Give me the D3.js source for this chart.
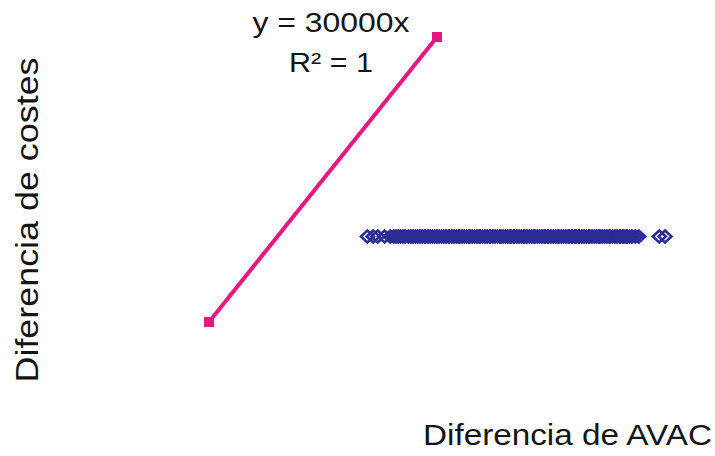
<!DOCTYPE html>
<html>
<head>
<meta charset="utf-8">
<script src="https://cdn.jsdelivr.net/npm/d3@7"></script>
<style>
  body { margin: 0; background: #fff; }
  svg text { font-family: "Liberation Sans", Arial, sans-serif; fill: #141414; }
</style>
</head>
<body>
<div id="chart"></div>
<script>
// regression line (y = 30000x), endpoints in AVAC / cost units
const lineX = [0, 0.02];
const lineY = lineX.map(x => 30000 * x);

// simulated pairs: AVAC difference (x), all at the same cost difference
const simCost = 180;
const simAvac = [
  0.0139, 0.0144, 0.0148, 0.0154, 0.0159,
  0.0162, 0.0164, 0.0166, 0.0168, 0.0170, 0.0172, 0.0175, 0.0177, 0.0179, 0.0181,
  0.0183, 0.0185, 0.0187, 0.0189, 0.0190, 0.0192, 0.0194, 0.0196, 0.0198, 0.0200,
  0.0202, 0.0204, 0.0206, 0.0208, 0.0210, 0.0211, 0.0213, 0.0215, 0.0217, 0.0219,
  0.0220, 0.0222, 0.0224, 0.0226, 0.0228, 0.0229, 0.0231, 0.0233, 0.0235, 0.0237,
  0.0238, 0.0240, 0.0242, 0.0244, 0.0246, 0.0247, 0.0249, 0.0251, 0.0253, 0.0255,
  0.0256, 0.0258, 0.0260, 0.0262, 0.0264, 0.0265, 0.0267, 0.0268, 0.0270, 0.0272,
  0.0274, 0.0276, 0.0277, 0.0279, 0.0281, 0.0283, 0.0285, 0.0286, 0.0288, 0.0290,
  0.0292, 0.0294, 0.0295, 0.0297, 0.0298, 0.0300, 0.0302, 0.0304, 0.0306, 0.0307,
  0.0309, 0.0311, 0.0313, 0.0315, 0.0316, 0.0318, 0.0319, 0.0321, 0.0322, 0.0324,
  0.0325, 0.0327, 0.0329, 0.0331, 0.0333, 0.0334, 0.0336, 0.0338, 0.0340, 0.0342,
  0.0343, 0.0345, 0.0347, 0.0349, 0.0351, 0.0352, 0.0354, 0.0356, 0.0358, 0.0360,
  0.0361, 0.0363, 0.0364, 0.0366, 0.0367, 0.0369,
  0.0371, 0.0374, 0.0377,
  0.0395, 0.0400
];

const equationLines = ["y = 30000x", "R² = 1"];
const xTitle = "Diferencia de AVAC";
const yTitle = "Diferencia de costes";

const width = 715, height = 456;

const svg = d3.select("#chart").append("svg")
  .attr("width", width)
  .attr("height", height);

const x = d3.scaleLinear().domain([0, 0.02]).range([209, 437]);
const y = d3.scaleLinear().domain([0, 600]).range([322, 37]);

// simulated points: hollow diamonds
const dw = 6.5, dh = 6;
svg.append("g")
  .selectAll("path")
  .data(simAvac)
  .join("path")
  .attr("d", d => {
    const cx = x(d), cy = y(simCost);
    return `M${cx - dw},${cy}L${cx},${cy - dh}L${cx + dw},${cy}L${cx},${cy + dh}Z`;
  })
  .attr("fill", "none")
  .attr("stroke", "#2c2c96")
  .attr("stroke-width", 2.6);

// regression line
const pts = lineX.map((d, i) => [d, lineY[i]]);
svg.append("path")
  .datum(pts)
  .attr("d", d3.line().x(d => x(d[0])).y(d => y(d[1])))
  .attr("fill", "none")
  .attr("stroke", "#e8177f")
  .attr("stroke-width", 4);

svg.append("g")
  .selectAll("rect")
  .data(pts)
  .join("rect")
  .attr("x", d => x(d[0]) - 5)
  .attr("y", d => y(d[1]) - 5)
  .attr("width", 10)
  .attr("height", 10)
  .attr("fill", "#e8177f");

// equation label
const eqWidths = [157, 84];
svg.append("g")
  .selectAll("text")
  .data(equationLines)
  .join("text")
  .attr("x", 331)
  .attr("y", (d, i) => 32 + i * 40)
  .attr("text-anchor", "middle")
  .attr("font-size", 27)
  .attr("textLength", (d, i) => eqWidths[i])
  .attr("lengthAdjust", "spacingAndGlyphs")
  .text(d => d);

// axis titles
svg.append("text")
  .attr("x", 423)
  .attr("y", 445)
  .attr("font-size", 29)
  .attr("textLength", 289)
  .attr("lengthAdjust", "spacingAndGlyphs")
  .text(xTitle);

svg.append("text")
  .attr("transform", "translate(38,220) rotate(-90)")
  .attr("text-anchor", "middle")
  .attr("font-size", 32)
  .attr("textLength", 325)
  .attr("lengthAdjust", "spacingAndGlyphs")
  .text(yTitle);
</script>
</body>
</html>
